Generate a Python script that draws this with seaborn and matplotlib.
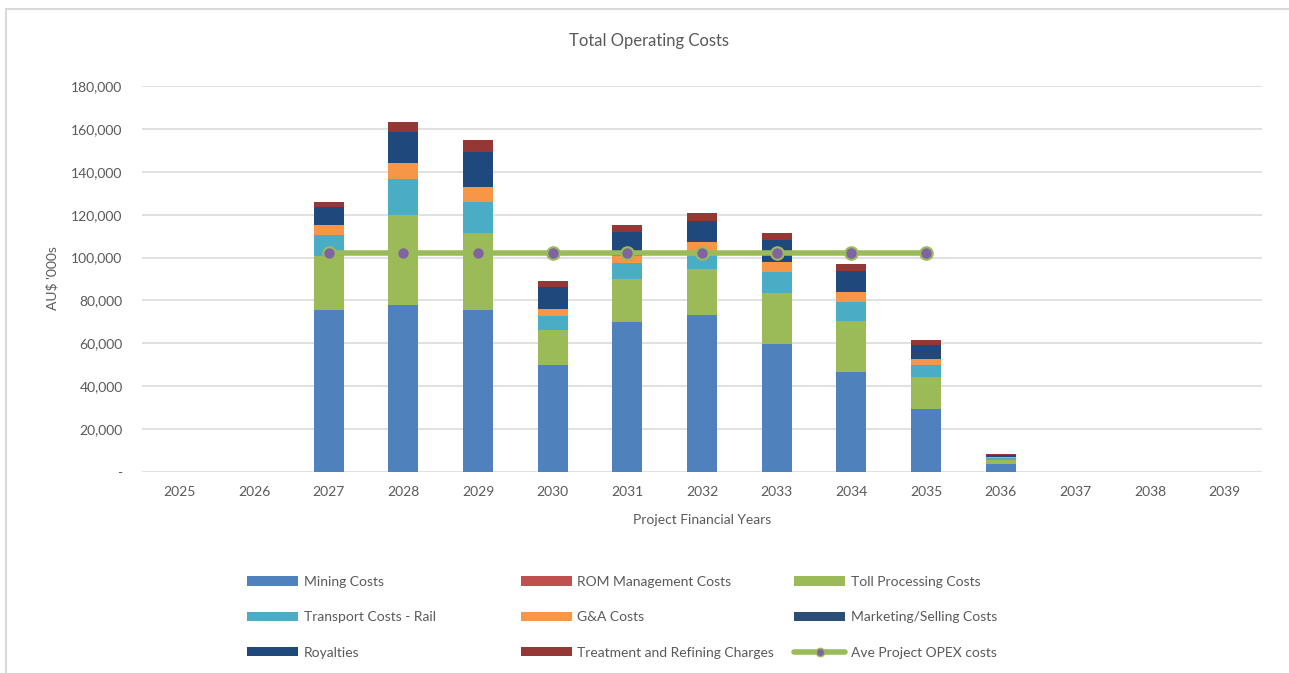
import matplotlib.pyplot as plt
import numpy as np
import pandas as pd
import seaborn as sns
from matplotlib.lines import Line2D
from matplotlib.patches import Patch, Rectangle
from matplotlib.ticker import FuncFormatter

sns.set_style("white")
plt.rcParams["font.family"] = ["Lato", "DejaVu Sans"]

years = [str(y) for y in range(2025, 2040)]

# AU$ '000s (2025 .. 2039)
mining = [0, 0, 75400, 77700, 75400, 49700, 70100, 73200, 59500, 46800, 29200, 3600, 0, 0, 0]
rom = [0] * 15
toll = [0, 0, 25300, 42000, 36000, 16700, 19700, 21600, 24100, 23600, 15100, 2100, 0, 0, 0]
transport = [0, 0, 9800, 16800, 14600, 6500, 7800, 5900, 9700, 9000, 5700, 800, 0, 0, 0]
g_and_a = [0, 0, 4700, 7700, 6800, 3100, 3100, 6700, 4500, 4700, 2700, 300, 0, 0, 0]
marketing = [0] * 15
royalties = [0, 0, 8200, 14200, 16400, 10100, 11200, 9800, 10400, 9500, 6500, 1100, 0, 0, 0]
trc = [0, 0, 2500, 4900, 5600, 3100, 3400, 3400, 3200, 3400, 2200, 600, 0, 0, 0]

avg_years = [str(y) for y in range(2027, 2036)]
avg_opex = [102000] * 9

series = [
    ("Mining Costs", mining, "#4F81BD"),
    ("ROM Management Costs", rom, "#C0504D"),
    ("Toll Processing Costs", toll, "#9BBB59"),
    ("Transport Costs - Rail", transport, "#4BACC6"),
    ("G&A Costs", g_and_a, "#F79646"),
    ("Marketing/Selling Costs", marketing, "#2C4D75"),
    ("Royalties", royalties, "#1F497D"),
    ("Treatment and Refining Charges", trc, "#953735"),
]

W, H = 1289, 673
fig = plt.figure(figsize=(W / 100, H / 100), dpi=100)
ax = fig.add_axes([142 / W, 1 - 472 / H, 1120 / W, 386 / H])

# stacked bars: draw cumulative totals from the top series down
cum = np.cumsum(np.array([s[1] for s in series], dtype=float), axis=0)
for i in range(len(series) - 1, -1, -1):
    sns.barplot(
        x=years, y=cum[i], order=years, color=series[i][2],
        saturation=1, width=0.4, linewidth=0, ax=ax, zorder=2
    )

sns.pointplot(
    x=avg_years, y=avg_opex, order=years, color="#9BBB59",
    errorbar=None, ax=ax, linewidth=4, markersize=9,
    markerfacecolor="#8064A2", markeredgecolor="#9BBB59",
    markeredgewidth=1.5, zorder=5
)

ax.set_ylim(0, 180000)
ax.set_xlim(-0.5, 14.5)
ax.set_yticks(range(0, 180001, 20000))
ax.yaxis.set_major_formatter(FuncFormatter(lambda v, p: "-" if v == 0 else "{:,.0f}".format(v)))
ax.grid(axis="y", color="#d9d9d9", linewidth=1.1, zorder=0)
ax.set_axisbelow(True)
for s in ax.spines.values():
    s.set_visible(False)
ax.tick_params(axis="y", length=0, pad=14, labelsize=10, labelcolor="#595959")
ax.tick_params(axis="x", length=0, pad=10, labelsize=10, labelcolor="#595959")
ax.set_xlabel("")
ax.set_ylabel("")

fig.text(649 / W, 1 - 41 / H, "Total Operating Costs", ha="center", va="center",
         fontsize=12, color="#595959")
fig.text(702 / W, 1 - 520 / H, "Project Financial Years", ha="center", va="center",
         fontsize=10, color="#595959")
fig.text(52 / W, 1 - 278 / H, "AU$ '000s", ha="center", va="center",
         rotation=90, fontsize=10, color="#595959")

# legend: three fixed-width columns like the Excel one
handles = [Patch(facecolor=c, edgecolor="none", label=n) for n, _, c in series]
handles.append(Line2D([], [], color="#9BBB59", linewidth=4, marker="o",
                      markersize=6, markerfacecolor="#8064A2",
                      markeredgecolor="#9BBB59", label="Ave Project OPEX costs"))
columns = [handles[0::3], handles[1::3], handles[2::3]]
for k, col in enumerate(columns):
    fig.legend(
        handles=col, loc="upper left",
        bbox_to_anchor=((247 + 273.5 * k) / W, 1 - 576 / H),
        frameon=False, fontsize=10, labelcolor="#595959",
        handlelength=3.7, handleheight=0.65, handletextpad=0.4,
        labelspacing=1.68, borderpad=0, borderaxespad=0
    )

fig.patches.append(Rectangle((6 / W, -0.1), 2, 1.1 - 9 / H, transform=fig.transFigure,
                             fill=False, edgecolor="#d9d9d9", linewidth=1.5))

fig.savefig("out.png", dpi=100)
